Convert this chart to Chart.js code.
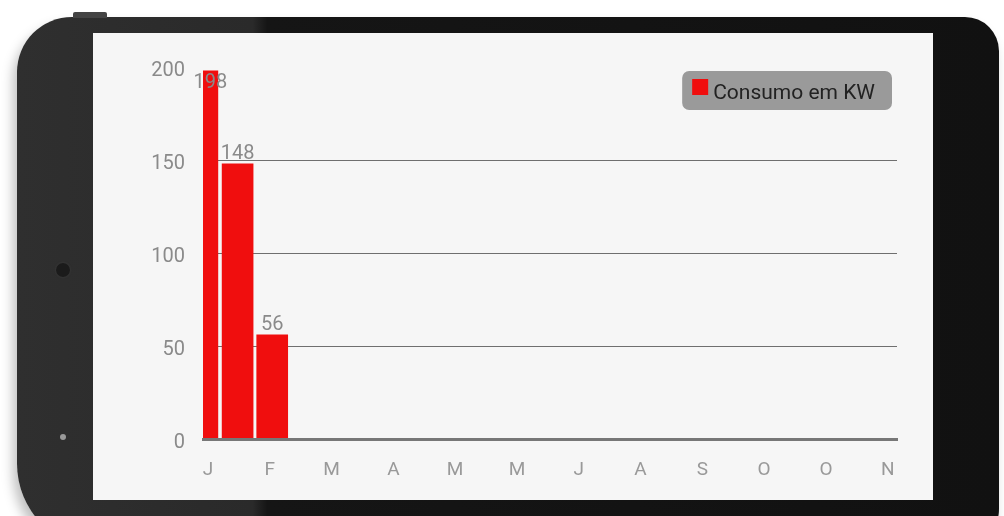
<!DOCTYPE html>
<html>
<head>
<meta charset="utf-8">
<script src="https://cdn.jsdelivr.net/npm/chart.js@4"></script>
<style>
  html, body { margin: 0; padding: 0; background: #fff; }
  body { width: 1004px; height: 516px; position: relative; overflow: hidden; font-family: Roboto, sans-serif; }
  .phone {
    position: absolute; left: 17px; top: 17px; width: 982px; height: 532px;
    border-radius: 55px 34px 40px 85px;
    background: linear-gradient(90deg, #2f2f2f 0%, #2a2a2a 24%, #151515 25.5%, #111 100%);
    box-shadow: -4px 8px 12px rgba(0,0,0,0.25);
  }
  .botao { position: absolute; left: 73px; top: 12px; width: 34px; height: 6px; background: #444; border-radius: 2px 2px 0 0; }
  .camera { position: absolute; left: 56px; top: 263px; width: 14px; height: 14px; border-radius: 50%; background: #1b1b1b; box-shadow: 0 0 2px #444; }
  .led { position: absolute; left: 60px; top: 434px; width: 6px; height: 6px; border-radius: 50%; background: #999; }
  .tela { position: absolute; left: 93px; top: 33px; width: 840px; height: 467px; background: #f6f6f6; }
</style>
</head>
<body>
<div class="phone"></div>
<div class="botao"></div>
<div class="camera"></div>
<div class="led"></div>
<div class="tela"><canvas id="grafico"></canvas></div>
<script>
const mesesLabels = ['J', 'F', 'M', 'A', 'M', 'M', 'J', 'A', 'S', 'O', 'O', 'N'];
const posicoesBarras = [-0.09, 0.48, 1.04];
const consumoValores = [198, 148, 56];
const serieLabel = 'Consumo em KW';
const yTicks = [0, 50, 100, 150, 200];

const fonte = 'Roboto, sans-serif';

// valores em cima das barras
const rotulosValores = {
    id: 'rotulosValores',
    afterDatasetsDraw(chart) {
        const ctx = chart.ctx;
        const area = chart.chartArea;
        const meta = chart.getDatasetMeta(0);
        ctx.save();
        ctx.font = '20px ' + fonte;
        ctx.fillStyle = '#8a8a8a';
        ctx.textAlign = 'center';
        ctx.textBaseline = 'middle';
        meta.data.forEach((barra, i) => {
            const esq = Math.max(barra.x - barra.width / 2, area.left);
            const dir = barra.x + barra.width / 2;
            const x = (esq + dir) / 2;
            let y = barra.y - 10;
            if (y - 10 < area.top) y = barra.y + 12;
            ctx.fillText(String(consumoValores[i]), x, y);
        });
        ctx.restore();
    }
};

// legenda com fundo cinza arredondado
const legendaCaixa = {
    id: 'legendaCaixa',
    afterDraw(chart) {
        const ctx = chart.ctx;
        const area = chart.chartArea;
        const ds = chart.data.datasets[0];
        ctx.save();
        ctx.font = '21px ' + fonte;
        const larguraTexto = ctx.measureText(ds.label).width;
        const w = 10 + 16 + 5 + larguraTexto + 17;
        const h = 39;
        const x = area.right - 5 - w;
        const y = area.top + 4;
        ctx.fillStyle = '#9a9a9a';
        ctx.beginPath();
        ctx.roundRect(x, y, w, h, 7);
        ctx.fill();
        ctx.fillStyle = ds.backgroundColor;
        ctx.fillRect(x + 10, y + 8, 16, 16);
        ctx.fillStyle = '#222';
        ctx.textBaseline = 'middle';
        ctx.fillText(ds.label, x + 31, y + 23);
        ctx.restore();
    }
};

const ctx = document.getElementById('grafico').getContext('2d');
new Chart(ctx, {
    type: 'bar',
    data: {
        datasets: [{
            label: serieLabel,
            data: posicoesBarras.map((x, i) => ({ x: x, y: consumoValores[i] })),
            backgroundColor: 'rgb(240, 14, 14)',
            barThickness: 31,
            clip: 0
        }]
    },
    options: {
        responsive: true,
        maintainAspectRatio: false,
        animation: false,
        layout: { padding: { left: 0, top: 34, right: 36, bottom: 0 } },
        scales: {
            x: {
                type: 'linear',
                offset: false,
                min: -0.08,
                max: 11.15,
                grid: { display: false, offset: false },
                border: { display: true, color: '#777', width: 3, z: 1 },
                afterBuildTicks: function (scale) {
                    scale.ticks = mesesLabels.map((_, i) => ({ value: i }));
                },
                afterFit: function (scale) { scale.height = 61; },
                ticks: {
                    autoSkip: false,
                    maxRotation: 0,
                    padding: 12,
                    color: '#999',
                    font: { family: fonte, size: 19 },
                    callback: function (valor) { return mesesLabels[valor]; }
                }
            },
            y: {
                min: 0,
                max: 200,
                afterBuildTicks: function (scale) {
                    scale.ticks = yTicks.map(v => ({ value: v }));
                },
                afterFit: function (scale) { scale.width = 110; },
                border: { display: false },
                grid: {
                    drawTicks: false,
                    lineWidth: 1,
                    color: function (c) {
                        const v = c.tick && c.tick.value;
                        return (v > 0 && v < 200) ? '#6f6f6f' : 'rgba(0,0,0,0)';
                    }
                },
                ticks: {
                    padding: 18,
                    labelOffset: 4,
                    color: '#8a8a8a',
                    font: { family: fonte, size: 20 }
                }
            }
        },
        plugins: {
            legend: { display: false },
            tooltip: { enabled: false }
        }
    },
    plugins: [rotulosValores, legendaCaixa]
});
</script>
</body>
</html>
